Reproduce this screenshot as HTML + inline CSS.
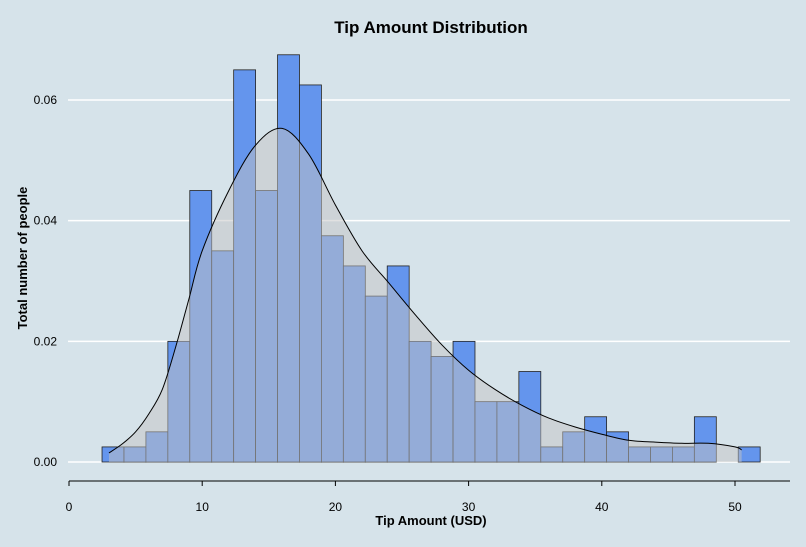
<!DOCTYPE html>
<html><head><meta charset="utf-8"><style>
body{margin:0;background:#d6e3ea;}
svg text{font-family:"Liberation Sans",sans-serif;}
</style></head><body>
<svg id="c" width="806" height="542">
<rect width="806" height="542" fill="#d6e3ea"/>
<text x="431" y="33" text-anchor="middle" font-size="17" font-weight="bold">Tip Amount Distribution</text>
<text x="431" y="525" text-anchor="middle" font-size="13" font-weight="bold">Tip Amount (USD)</text>
<text transform="translate(27,258) rotate(-90)" text-anchor="middle" font-size="13" font-weight="bold">Total number of people</text>
<g id="grid"></g><g id="bars"></g><g id="dens"></g><g id="axes"></g>
</svg>
<script>
const binStart = 2.48, binWidth = 1.647;
const binHeights = [0.0025,0.0025,0.005,0.02,0.045,0.035,0.065,0.045,0.0675,0.0625,0.0375,0.0325,0.0275,0.0325,0.02,0.0175,0.02,0.01,0.01,0.015,0.0025,0.005,0.0075,0.005,0.0025,0.0025,0.0025,0.0075,0.0,0.0025];
const densX = [3,4,5,6,7,8,9,10,12,14,16,18,20,22,24,26,28,30,32,34,36,38,40,42,44,46,48,50,50.5];
const densY = [0.0015,0.003,0.005,0.008,0.012,0.019,0.027,0.035,0.045,0.0525,0.0553,0.051,0.0426,0.035,0.0297,0.0244,0.0194,0.0152,0.012,0.0094,0.0073,0.0058,0.0046,0.0036,0.0033,0.0031,0.0031,0.0025,0.002];
const yTicks = [0,0.02,0.04,0.06];
const xTicks = [0,10,20,30,40,50];
const NS="http://www.w3.org/2000/svg";
const xs = v => 69 + v*13.32;
const ys = v => 462 - v*6033;
function mk(tag, attrs, parent){const e=document.createElementNS(NS,tag);for(const k in attrs)e.setAttribute(k,attrs[k]);document.getElementById(parent).appendChild(e);return e;}
yTicks.forEach(t=>{
  const l=mk('line',{x1:68,x2:790,y1:ys(t),y2:ys(t),stroke:'#fff','stroke-width':1.5},'grid');
  
  
  const tx=mk('text',{x:57,y:ys(t)+4,'text-anchor':'end','font-size':12},'grid');
  tx.textContent=t.toFixed(2);
  
  
});
binHeights.forEach((h,i)=>{
  if(h<=0)return;
  const x0=xs(binStart+i*binWidth), x1=xs(binStart+(i+1)*binWidth);
  const r=mk('rect',{x:x0,y:ys(h),width:x1-x0,height:ys(0)-ys(h),fill:'#6495ed',stroke:'#222','stroke-width':0.8},'bars');
  
  
});
const pts=densX.map((x,i)=>[xs(x),ys(densY[i])]);
function smooth(p){
  let s='';
  for(let i=0;i<p.length-1;i++){
    const p0=p[i-1]||p[i],p1=p[i],p2=p[i+1],p3=p[i+2]||p2;
    const c1=[p1[0]+(p2[0]-p0[0])/6,p1[1]+(p2[1]-p0[1])/6];
    const c2=[p2[0]-(p3[0]-p1[0])/6,p2[1]-(p3[1]-p1[1])/6];
    s+=' C'+c1[0]+','+c1[1]+' '+c2[0]+','+c2[1]+' '+p2[0]+','+p2[1];
  }
  return s;
}
const curve=smooth(pts);
const d='M'+pts[0][0]+','+ys(0)+' L'+pts[0][0]+','+pts[0][1]+curve+' L'+pts[pts.length-1][0]+','+ys(0)+' Z';
const p=mk('path',{d:d,fill:'rgba(195,195,195,0.5)',stroke:'none'},'dens');


const pl=mk('path',{d:'M'+pts[0][0]+','+pts[0][1]+curve,fill:'none',stroke:'#000','stroke-width':1},'dens');


const ax=mk('line',{x1:69,x2:790,y1:481,y2:481,stroke:'#000','stroke-width':1},'axes');


xTicks.forEach(t=>{
  const l=mk('line',{x1:xs(t),x2:xs(t),y1:481,y2:486,stroke:'#000'},'axes');
  
  
  const tx=mk('text',{x:xs(t),y:511,'text-anchor':'middle','font-size':12},'axes');
  tx.textContent=t;
  
  
});
</script>
</body></html>
